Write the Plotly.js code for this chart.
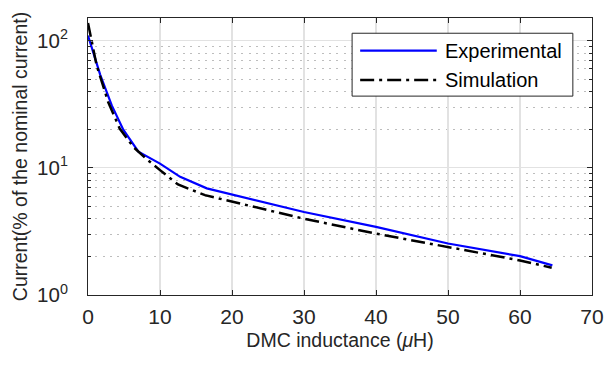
<!DOCTYPE html>
<html>
<head>
<meta charset="utf-8">
<script src="https://cdn.plot.ly/plotly-3.0.1.min.js"></script>
<style>
html,body{margin:0;padding:0;background:#fff;}
#chart{width:615px;height:369px;}
</style>
</head>
<body>
<div id="chart"></div>
<script>
// Experimental measurement
var expInductance = [0, 1.7, 3.3, 4.9, 7.0, 10, 12.8, 16.5, 30, 40, 50, 60, 64.5];
var expCurrent    = [110, 54, 31, 20, 13.4, 10.8, 8.5, 6.9, 4.5, 3.43, 2.54, 2.02, 1.71];
// Simulation
var simInductance = [0, 1.2, 2.8, 4.4, 6.3, 8.0, 10, 12.5, 16.25, 30, 40, 50, 60, 64.4];
var simCurrent    = [138, 64, 33, 20.4, 14.6, 11.9, 9.6, 7.4, 6.1, 3.98, 3.04, 2.39, 1.87, 1.64];
// Axis ticks
var xTicks = [0, 10, 20, 30, 40, 50, 60, 70];
var yTickVals = [1, 10, 100];
var yTickText = ['10<sup>0</sup>', '10<sup>1</sup>', '10<sup>2</sup>'];
var yMinorVals = [2,3,4,5,6,7,8,9,20,30,40,50,60,70,80,90];
var seriesNames = ['Experimental', 'Simulation'];

var FONT = 'Liberation Sans, Arial, Helvetica, sans-serif';
var TXT = '#262626';
var SIM_DASH = '14px,5px,3px,5px';

var traces = [
  {x: expInductance, y: expCurrent, type: 'scatter', mode: 'lines', name: seriesNames[0],
   line: {color: '#0000ff', width: 2.2}},
  {x: simInductance, y: simCurrent, type: 'scatter', mode: 'lines', name: seriesNames[1],
   line: {color: '#000000', width: 2.5, dash: SIM_DASH}}
];

// Legend drawn as a MATLAB-style box (paper coordinates)
var lg = {x0: 0.524, x1: 0.962, y0: 0.718, y1: 0.945, lx0: 0.54, lx1: 0.692, tx: 0.704, ya: 0.882, yb: 0.776};

var layout = {
  width: 615, height: 369,
  margin: {l: 88, r: 23, t: 18, b: 74},
  paper_bgcolor: '#fff', plot_bgcolor: '#fff',
  font: {family: FONT, color: TXT, size: 19},
  showlegend: false,
  xaxis: {
    range: [0, 70], tickmode: 'array', tickvals: xTicks, ticktext: xTicks.map(String),
    ticks: 'inside', ticklen: 5, tickcolor: TXT, tickwidth: 1,
    showline: true, linecolor: TXT, linewidth: 1, mirror: 'ticks',
    showgrid: true, gridcolor: '#e2e2e2', gridwidth: 1.2, zeroline: false,
    tickfont: {size: 21, color: TXT}, ticklabelstandoff: 3,
    title: {text: 'DMC inductance (<i>μ</i>H)', font: {size: 19.5, color: TXT}, standoff: 6}
  },
  yaxis: {
    type: 'log', range: [0, Math.log10(151)],
    tickmode: 'array', tickvals: yTickVals, ticktext: yTickText,
    ticks: 'inside', ticklen: 5, tickcolor: TXT, tickwidth: 1,
    showline: true, linecolor: TXT, linewidth: 1, mirror: 'ticks',
    showgrid: true, gridcolor: '#e2e2e2', gridwidth: 1.2, zeroline: false,
    tickfont: {size: 20.5, color: TXT}, ticklabelstandoff: 15,
    minor: {tickmode: 'array', tickvals: yMinorVals, ticks: 'inside', ticklen: 3,
            tickcolor: TXT, showgrid: true, gridcolor: '#bdbdbd', griddash: '2px,5.3px', gridwidth: 1},
    title: {text: 'Current(% of the nominal current)', font: {size: 19.5, color: TXT}, standoff: 4}
  },
  shapes: [
    {type: 'rect', xref: 'paper', yref: 'paper', x0: lg.x0, x1: lg.x1, y0: lg.y0, y1: lg.y1,
     fillcolor: '#ffffff', line: {color: TXT, width: 1}, layer: 'above'},
    {type: 'line', xref: 'paper', yref: 'paper', x0: lg.lx0, x1: lg.lx1, y0: lg.ya, y1: lg.ya,
     line: {color: '#0000ff', width: 2.2}, layer: 'above'},
    {type: 'line', xref: 'paper', yref: 'paper', x0: lg.lx0, x1: lg.lx1, y0: lg.yb, y1: lg.yb,
     line: {color: '#000000', width: 2.5, dash: SIM_DASH}, layer: 'above'}
  ],
  annotations: [
    {xref: 'paper', yref: 'paper', x: lg.tx, y: lg.ya, xanchor: 'left', yanchor: 'middle',
     text: seriesNames[0], showarrow: false, font: {size: 20, color: '#000'}},
    {xref: 'paper', yref: 'paper', x: lg.tx, y: lg.yb, xanchor: 'left', yanchor: 'middle',
     text: seriesNames[1], showarrow: false, font: {size: 20, color: '#000'}}
  ]
};

Plotly.newPlot('chart', traces, layout, {displayModeBar: false, staticPlot: true});
</script>
</body>
</html>
